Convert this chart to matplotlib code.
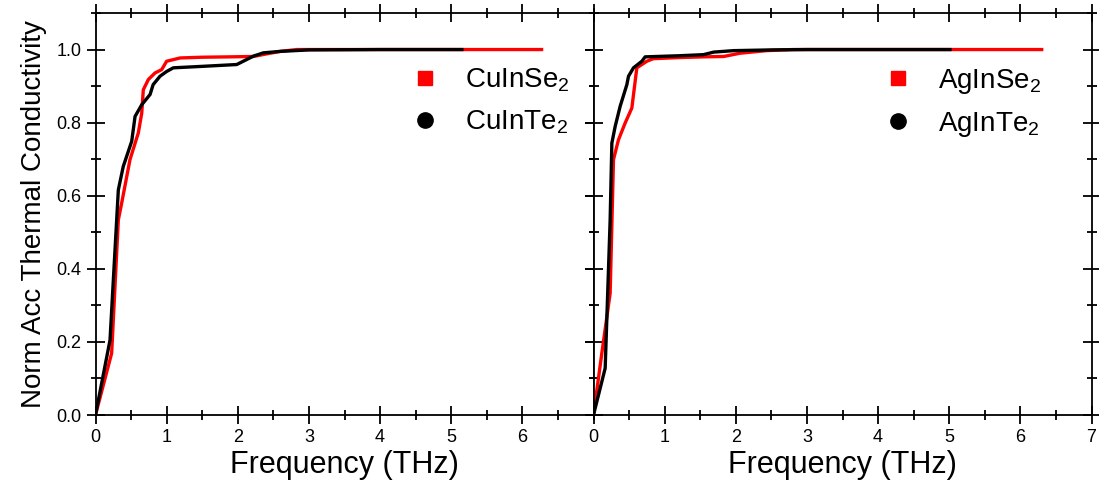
import matplotlib
matplotlib.use("Agg")
import matplotlib.pyplot as plt
from matplotlib.lines import Line2D
from matplotlib.ticker import MultipleLocator

plt.rcParams.update({
    "font.family": ["Liberation Sans", "DejaVu Sans"],
    "mathtext.fontset": "custom",
    "mathtext.rm": "Liberation Sans",
    "mathtext.it": "Liberation Sans",
})

# CuInSe2 / CuInTe2 (left panel)
cu_se_x = [0, 0.227, 0.321, 0.368, 0.485, 0.602, 0.65, 0.672, 0.743, 0.837, 0.93,
           1.0, 1.19, 1.5, 1.89, 2.22, 2.4, 2.6, 2.83, 4.0, 5.0, 6.27]
cu_se_y = [0, 0.169, 0.534, 0.58, 0.699, 0.772, 0.826, 0.89, 0.918, 0.936, 0.945,
           0.968, 0.977, 0.979, 0.98, 0.981, 0.988, 0.995, 1.0, 1.0, 1.0, 1.0]
cu_te_x = [0, 0.204, 0.321, 0.39, 0.509, 0.556, 0.65, 0.767, 0.81, 0.907, 1.0,
           1.094, 1.5, 1.985, 2.22, 2.36, 2.6, 3.0, 4.0, 5.15]
cu_te_y = [0, 0.205, 0.616, 0.68, 0.749, 0.817, 0.849, 0.877, 0.904, 0.927, 0.94,
           0.95, 0.954, 0.959, 0.982, 0.991, 0.995, 0.999, 1.0, 1.0]

# AgInSe2 / AgInTe2 (right panel)
ag_se_x = [0, 0.117, 0.234, 0.281, 0.351, 0.445, 0.539, 0.609, 0.75, 0.84, 1.2,
           1.545, 1.83, 2.06, 2.43, 2.8, 4.0, 5.0, 6.3]
ag_se_y = [0, 0.169, 0.333, 0.699, 0.753, 0.799, 0.84, 0.95, 0.968, 0.975, 0.978,
           0.98, 0.981, 0.99, 0.997, 1.0, 1.0, 1.0, 1.0]
ag_te_x = [0, 0.164, 0.234, 0.258, 0.305, 0.375, 0.469, 0.492, 0.562, 0.68, 0.726,
           1.2, 1.545, 1.69, 1.97, 2.5, 3.0, 4.0, 5.01]
ag_te_y = [0, 0.128, 0.534, 0.744, 0.79, 0.845, 0.904, 0.927, 0.95, 0.968, 0.98,
           0.983, 0.986, 0.993, 0.997, 0.999, 1.0, 1.0, 1.0]

panels = [
    (cu_se_x, cu_se_y, cu_te_x, cu_te_y, "CuInSe$_2$", "CuInTe$_2$", 0.634),
    (ag_se_x, ag_se_y, ag_te_x, ag_te_y, "AgInSe$_2$", "AgInTe$_2$", 0.583),
]

fig = plt.figure(figsize=(10.99, 4.87), dpi=100)
left0, width = 95.5 / 1099, 498 / 1099
bottom, height = 72 / 487, 402 / 487
axes = [fig.add_axes([left0, bottom, width, height]),
        fig.add_axes([left0 + width, bottom, width, height])]

for i, (ax, (sx, sy, tx, ty, lab_se, lab_te, lx)) in enumerate(zip(axes, panels)):
    ax.plot(sx, sy, color="#ff0000", lw=2.4, zorder=2)
    ax.plot(tx, ty, color="black", lw=2.4, zorder=3)
    ax.set_xlim(0, 7)
    ax.set_ylim(0, 1.1)
    ax.xaxis.set_major_locator(MultipleLocator(1))
    ax.xaxis.set_minor_locator(MultipleLocator(0.5))
    ax.yaxis.set_major_locator(MultipleLocator(0.2))
    ax.yaxis.set_minor_locator(MultipleLocator(0.1))
    ax.tick_params(which="both", direction="inout", top=True, right=True,
                   width=1.3, labelsize=13)
    ax.tick_params(which="major", length=13)
    ax.tick_params(which="minor", length=7)
    for sp in ax.spines.values():
        sp.set_linewidth(1.3)
    ax.set_xlabel("Frequency (THz)", fontsize=22, labelpad=3)
    if i == 0:
        ax.set_xticks(range(7))
        ax.set_ylabel("Norm Acc Thermal Conductivity", fontsize=20, labelpad=7)
    else:
        ax.tick_params(labelleft=False)

    handles = [Line2D([], [], ls="none", marker="s", color="#ff0000", ms=10),
               Line2D([], [], ls="none", marker="o", color="black", ms=11)]
    ax.legend(handles, [lab_se, lab_te], loc="upper left", bbox_to_anchor=(lx, 0.866),
              frameon=False, fontsize=20, borderpad=0, borderaxespad=0,
              handlelength=1.0, handletextpad=0.95, labelspacing=0.5)

fig.savefig("out.png", dpi=100)
